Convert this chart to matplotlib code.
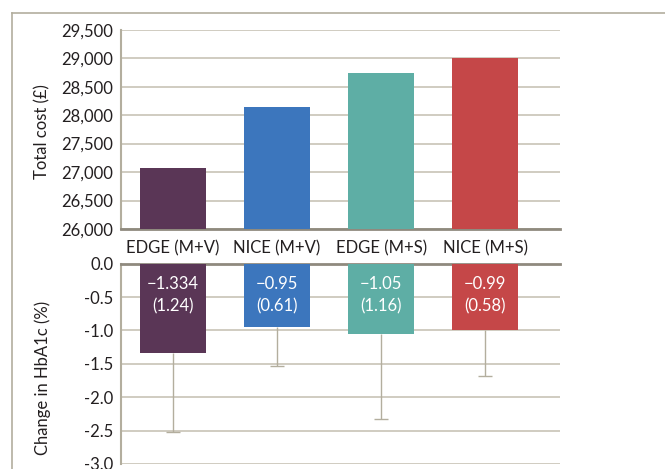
import matplotlib.pyplot as plt
from matplotlib.lines import Line2D

plt.rcParams['font.family'] = ['Lato', 'DejaVu Sans']

# data
groups = ['EDGE (M+V)', 'NICE (M+V)', 'EDGE (M+S)', 'NICE (M+S)']
total_cost = [27070, 28140, 28745, 29000]
hba1c_mean = [-1.334, -0.95, -1.05, -0.99]
hba1c_sd = ['1.24', '0.61', '1.16', '0.58']
hba1c_low = [-2.52, -1.53, -2.33, -1.68]   # ends of the error whiskers
bar_colors = ['#5a3656', '#3c76bd', '#5eaea5', '#c54748']

grid_col = '#c4bfb0'
spine_col = '#b3ae9e'
dark_col = '#8f8a7e'
text_col = '#231f20'

fig = plt.figure(figsize=(6.65, 4.69), dpi=100)

# frame round the figure (only top and left edges show)
fig.add_artist(Line2D([12 / 665, 1], [1 - 13 / 469, 1 - 13 / 469], color=spine_col, lw=1.2))
fig.add_artist(Line2D([12 / 665, 12 / 665], [0, 1 - 13 / 469], color=spine_col, lw=1.2))

x = list(range(len(groups)))
xlim = (-0.5, 3.72)
w = 0.635

# top panel: total cost
ax1 = fig.add_axes([121 / 665, 1 - 229 / 469, 439 / 665, 199.3 / 469])
ax1.bar(x, [v - 26000 for v in total_cost], bottom=26000, width=w, color=bar_colors, zorder=3)
ax1.set_ylim(26000, 29500)
ax1.set_xlim(*xlim)
ax1.set_yticks(range(26000, 29501, 500))
ax1.set_yticklabels([f'{v:,}' for v in range(26000, 29501, 500)])
ax1.set_xticks([])
ax1.yaxis.grid(True, color=grid_col, lw=1.1)
ax1.set_axisbelow(True)
for s in ['top', 'right']:
    ax1.spines[s].set_visible(False)
ax1.spines['left'].set_color(spine_col)
ax1.spines['left'].set_linewidth(1.5)
ax1.spines['bottom'].set_color(dark_col)
ax1.spines['bottom'].set_linewidth(2)
ax1.tick_params(axis='y', length=0, pad=5.5, labelsize=12, labelcolor=text_col)
ax1.set_ylabel('Total cost (£)', fontsize=12, color=text_col)
ax1.yaxis.set_label_coords(-0.16, 0.49)

# bottom panel: change in HbA1c
ax2 = fig.add_axes([121 / 665, 1 - 464 / 469, 439 / 665, 200.3 / 469])
ax2.bar(x, hba1c_mean, width=w, color=bar_colors, zorder=3)
ax2.vlines(x, hba1c_low, hba1c_mean, color=spine_col, lw=1, zorder=2)
ax2.hlines(hba1c_low, [i - 0.067 for i in x], [i + 0.067 for i in x], color=spine_col, lw=1, zorder=2)
for i, (m, sd) in enumerate(zip(hba1c_mean, hba1c_sd)):
    ax2.annotate(f'{m:g}'.replace('-', '\u2212') + f'\n({sd})', xy=(i, 0), xytext=(0, -9),
                 textcoords='offset points', ha='center', va='top', color='white',
                 fontsize=12, linespacing=1.45, zorder=4)
ax2.set_ylim(-3, 0)
ax2.set_xlim(*xlim)
ax2.set_yticks([0, -0.5, -1, -1.5, -2, -2.5, -3])
ax2.set_yticklabels(['0.0', '-0.5', '-1.0', '-1.5', '-2.0', '-2.5', '-3.0'])
ax2.set_xticks(x)
ax2.set_xticklabels(groups)
ax2.xaxis.tick_top()
ax2.yaxis.grid(True, color=grid_col, lw=1.1)
ax2.set_axisbelow(True)
for s in ['bottom', 'right']:
    ax2.spines[s].set_visible(False)
ax2.spines['left'].set_color(spine_col)
ax2.spines['left'].set_linewidth(1.5)
ax2.spines['top'].set_color(dark_col)
ax2.spines['top'].set_linewidth(2)
ax2.tick_params(axis='y', length=0, pad=5.5, labelsize=12, labelcolor=text_col)
ax2.tick_params(axis='x', length=0, pad=5, labelsize=12, labelcolor=text_col)
ax2.set_ylabel('Change in HbA1c (%)', fontsize=12, color=text_col)
ax2.yaxis.set_label_coords(-0.16, 0.43)

fig.savefig('out.png', dpi=100)
